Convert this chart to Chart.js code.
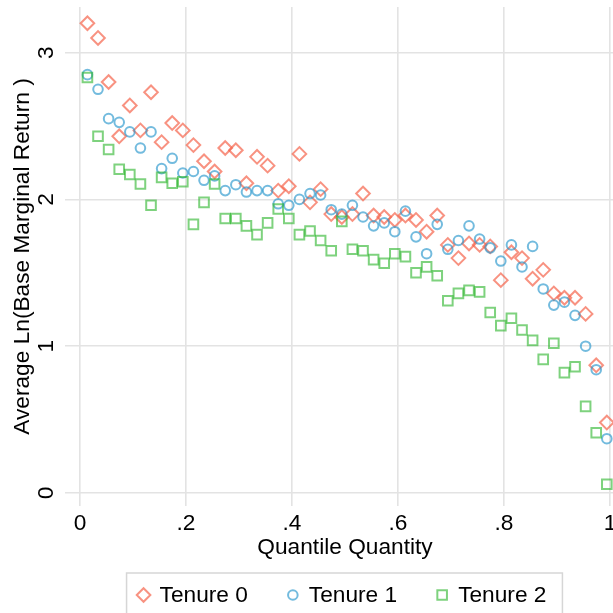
<!DOCTYPE html>
<html>
<head>
<meta charset="utf-8">
<script src="https://cdn.jsdelivr.net/npm/chart.js@4"></script>
<style>
  html, body { margin: 0; padding: 0; background: #fff; overflow: hidden; }
  canvas { display: block; }
</style>
</head>
<body>
<canvas id="quantileChart" width="626" height="613"></canvas>
<script>
// quantile midpoints (50 bins)
const quantiles = [
    0.014, 0.034, 0.054, 0.074, 0.094, 0.114, 0.134, 0.154, 0.174, 0.194,
    0.214, 0.234, 0.254, 0.274, 0.294, 0.314, 0.334, 0.354, 0.374, 0.394,
    0.414, 0.434, 0.454, 0.474, 0.494, 0.514, 0.534, 0.554, 0.574, 0.594,
    0.614, 0.634, 0.654, 0.674, 0.694, 0.714, 0.734, 0.754, 0.774, 0.794,
    0.814, 0.834, 0.854, 0.874, 0.894, 0.914, 0.934, 0.954, 0.974, 0.994
];

const tenure0 = [
    3.20, 3.10, 2.80, 2.43, 2.64, 2.47, 2.73, 2.39, 2.52, 2.47,
    2.37, 2.26, 2.19, 2.35, 2.335, 2.11, 2.29, 2.23, 2.06, 2.09,
    2.31, 1.98, 2.07, 1.90, 1.88, 1.90, 2.04, 1.89, 1.88, 1.86,
    1.89, 1.86, 1.78, 1.89, 1.69, 1.60, 1.70, 1.69, 1.68, 1.45,
    1.64, 1.60, 1.46, 1.52, 1.36, 1.33, 1.33, 1.22, 0.87, 0.48
];

const tenure1 = [
    2.85, 2.75, 2.55, 2.525, 2.46, 2.35, 2.46, 2.21, 2.28, 2.18,
    2.19, 2.13, 2.16, 2.06, 2.10, 2.05, 2.06, 2.06, 1.97, 1.96,
    2.00, 2.04, 2.03, 1.93, 1.90, 1.96, 1.88, 1.82, 1.84, 1.78,
    1.92, 1.745, 1.63, 1.83, 1.66, 1.72, 1.82, 1.73, 1.67, 1.58,
    1.69, 1.54, 1.68, 1.39, 1.28, 1.30, 1.21, 1.00, 0.84, 0.37
];

const tenure2 = [
    2.83, 2.43, 2.34, 2.205, 2.17, 2.105, 1.96, 2.15, 2.11, 2.12,
    1.83, 1.98, 2.105, 1.87, 1.87, 1.82, 1.76, 1.84, 1.935, 1.87,
    1.76, 1.785, 1.72, 1.65, 1.85, 1.66, 1.65, 1.59, 1.565, 1.63,
    1.61, 1.50, 1.54, 1.48, 1.31, 1.36, 1.38, 1.37, 1.23, 1.14,
    1.19, 1.11, 1.04, 0.91, 1.02, 0.82, 0.86, 0.59, 0.41, 0.06
];

const seriesLabels = ['Tenure 0', 'Tenure 1', 'Tenure 2'];
const xTicks = [0, 0.2, 0.4, 0.6, 0.8, 1];
const yTicks = [0, 1, 2, 3];

const FONT = 'Liberation Sans, Helvetica, Arial, sans-serif';
const FONT_SIZE = 22.7;
const GRID = '#e3e3e3';

function points(values) {
    return values.map((v, i) => ({ x: quantiles[i], y: v }));
}

function fmtTick(v) {
    if (v === 0 || v === 1) return String(v);
    return String(v).replace(/^0/, '');
}

// fixed axis boxes so the plot region lands where it should
function fixBox(size) {
    return scale => {
        if (scale.isHorizontal()) scale.height = size;
        else scale.width = size;
        scale.paddingLeft = scale.paddingRight = 0;
        scale.paddingTop = scale.paddingBottom = 0;
    };
}

// legend drawn as a framed row under the x axis title
const boxedLegend = {
    id: 'boxedLegend',
    afterDraw(chart) {
        const ctx = chart.ctx;
        const area = chart.chartArea;
        const cx = (area.left + area.right) / 2;
        const cy = 595;
        const markerToText = 16;
        const gap = 45;

        ctx.save();
        ctx.font = FONT_SIZE + 'px ' + FONT;
        const sets = chart.data.datasets;
        const widths = sets.map(ds => markerToText + ctx.measureText(ds.label).width);
        const total = widths.reduce((a, b) => a + b, 0) + gap * (sets.length - 1);
        const first = cx - total / 2;

        ctx.strokeStyle = '#d6d6d6';
        ctx.lineWidth = 1.5;
        ctx.strokeRect(first - 17, cy - 22, total + 33, 60);

        let x = first;
        sets.forEach((ds, i) => {
            ctx.strokeStyle = ds.borderColor;
            ctx.fillStyle = 'rgba(0,0,0,0)';
            ctx.lineWidth = ds.borderWidth;
            Chart.helpers.drawPoint(ctx, {
                pointStyle: ds.pointStyle,
                radius: ds.pointRadius,
                rotation: 0,
                borderWidth: ds.borderWidth
            }, x, cy);
            ctx.fillStyle = '#000';
            ctx.textBaseline = 'middle';
            ctx.textAlign = 'left';
            ctx.fillText(ds.label, x + markerToText, cy + 1);
            x += widths[i] + gap;
        });
        ctx.restore();
    }
};

new Chart(document.getElementById('quantileChart'), {
    type: 'scatter',
    data: {
        datasets: [
            {
                label: seriesLabels[0],
                data: points(tenure0),
                pointStyle: 'rectRot',
                pointRadius: 6.8,
                borderWidth: 2,
                borderColor: 'rgba(245,100,75,0.7)',
                backgroundColor: 'rgba(0,0,0,0)',
                order: 2
            },
            {
                label: seriesLabels[1],
                data: points(tenure1),
                pointStyle: 'circle',
                pointRadius: 4.8,
                borderWidth: 2,
                borderColor: 'rgba(40,150,205,0.65)',
                backgroundColor: 'rgba(0,0,0,0)',
                order: 1
            },
            {
                label: seriesLabels[2],
                data: points(tenure2),
                pointStyle: 'rect',
                pointRadius: 6.8,
                borderWidth: 2,
                borderColor: 'rgba(40,180,40,0.6)',
                backgroundColor: 'rgba(0,0,0,0)',
                order: 0
            }
        ]
    },
    options: {
        responsive: false,
        animation: false,
        devicePixelRatio: 1,
        layout: { autoPadding: false, padding: { top: 7, left: 0, right: 1, bottom: 48 } },
        plugins: {
            legend: { display: false },
            tooltip: { enabled: false }
        },
        scales: {
            x: {
                type: 'linear',
                min: -0.0283,
                max: 1.0283,
                afterBuildTicks: scale => { scale.ticks = xTicks.map(v => ({ value: v })); },
                afterFit: fixBox(59),
                grid: { color: GRID, lineWidth: 1.6, drawTicks: false },
                border: { display: false },
                ticks: {
                    padding: 4,
                    color: '#000',
                    font: { family: FONT, size: FONT_SIZE },
                    callback: v => fmtTick(v)
                },
                title: {
                    display: true,
                    text: 'Quantile Quantity',
                    color: '#000',
                    font: { family: FONT, size: FONT_SIZE },
                    padding: { top: 4, bottom: 4 }
                }
            },
            y: {
                type: 'linear',
                min: -0.0886,
                max: 3.3107,
                afterBuildTicks: scale => { scale.ticks = yTicks.map(v => ({ value: v })); },
                afterFit: fixBox(65),
                grid: { color: GRID, lineWidth: 1.6, drawTicks: false },
                border: { display: false },
                ticks: {
                    padding: 12,
                    minRotation: 90,
                    maxRotation: 90,
                    crossAlign: 'center',
                    color: '#000',
                    font: { family: FONT, size: FONT_SIZE },
                    callback: v => String(v)
                },
                title: {
                    display: true,
                    text: 'Average Ln(Base Marginal Return )',
                    color: '#000',
                    font: { family: FONT, size: FONT_SIZE },
                    padding: { top: 9, bottom: 0 }
                }
            }
        }
    },
    plugins: [boxedLegend]
});
</script>
</body>
</html>
